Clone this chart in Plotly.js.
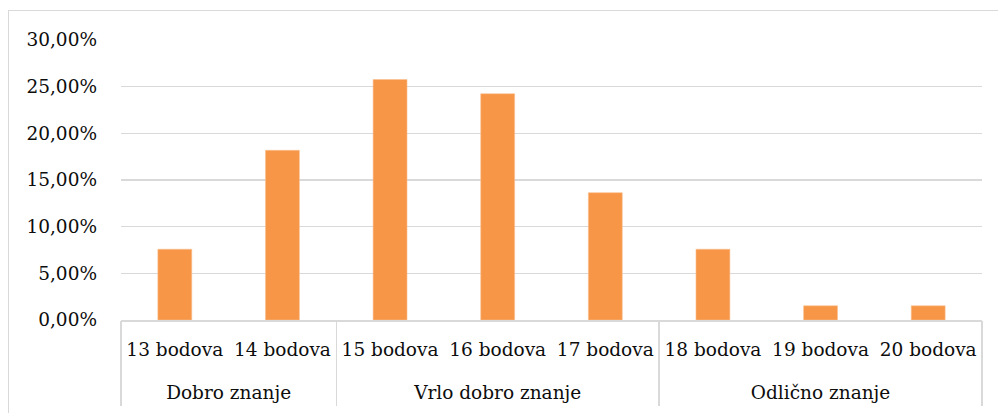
<!DOCTYPE html>
<html>
<head>
<meta charset="utf-8">
<script src="https://cdn.plot.ly/plotly-3.0.1.min.js"></script>
<style>
  html, body { margin: 0; padding: 0; background: #fff; overflow: hidden; }
  #wrap { position: relative; width: 998px; height: 413px; overflow: hidden; }
  #chart { position: absolute; left: 0; top: 0; width: 998px; height: 413px; }
  #frame { position: absolute; left: 8px; top: 10px; width: 1100px; height: 600px;
           border: 1.5px solid #d9d9d9; pointer-events: none; box-sizing: border-box; }
</style>
</head>
<body>
<div id="wrap">
  <div id="chart"></div>
  <div id="frame"></div>
</div>
<script>
const groups = ["Dobro znanje", "Dobro znanje",
                "Vrlo dobro znanje", "Vrlo dobro znanje", "Vrlo dobro znanje",
                "Odlično znanje", "Odlično znanje", "Odlično znanje"];
const categories = ["13 bodova", "14 bodova", "15 bodova", "16 bodova",
                    "17 bodova", "18 bodova", "19 bodova", "20 bodova"];
const values = [0.0758, 0.1818, 0.2576, 0.2424, 0.1364, 0.0758, 0.0152, 0.0152];
const yTicks = [0, 0.05, 0.10, 0.15, 0.20, 0.25, 0.30];

// group label positions and divider positions derived from the groups array
const groupNames = [], groupCenters = [], boundaries = [-0.5];
let start = 0;
for (let i = 1; i <= groups.length; i++) {
  if (i === groups.length || groups[i] !== groups[start]) {
    groupNames.push(groups[start]);
    groupCenters.push((start + i - 1) / 2);
    boundaries.push(i - 0.5);
    start = i;
  }
}

const font = { family: "DejaVu Serif", size: 18.5, color: "#0d0d0d" };
const xRange = [-0.5, categories.length - 0.5];

const trace = {
  type: "bar",
  x: categories,
  y: values,
  marker: { color: "#F79646", line: { color: "#FAC090", width: 0.6 } },
  hoverinfo: "skip"
};
const anchor2 = { type: "scatter", x: [], y: [], xaxis: "x2", yaxis: "y", hoverinfo: "skip", showlegend: false };
const anchor3 = { type: "scatter", x: [], y: [], xaxis: "x3", yaxis: "y", hoverinfo: "skip", showlegend: false };

const layout = {
  width: 998, height: 413,
  margin: { l: 121, r: 16, t: 40, b: 93 },
  paper_bgcolor: "rgba(0,0,0,0)",
  plot_bgcolor: "#fff",
  separators: ",.",
  font: font,
  showlegend: false,
  bargap: 0.685,
  xaxis: {
    type: "category", range: xRange,
    showline: true, linecolor: "#d9d9d9", linewidth: 1.5,
    showgrid: false, ticks: "",
    ticklabelstandoff: 12,
    tickfont: font,
    fixedrange: true
  },
  xaxis2: {
    overlaying: "x", anchor: "y", side: "bottom",
    type: "linear", range: xRange,
    tickmode: "array", tickvals: groupCenters, ticktext: groupNames,
    showline: false, showgrid: false, zeroline: false, ticks: "",
    ticklabelstandoff: 59,
    tickfont: font,
    fixedrange: true
  },
  xaxis3: {
    overlaying: "x", anchor: "y", side: "bottom",
    type: "linear", range: xRange,
    tickmode: "array", tickvals: boundaries,
    showticklabels: false,
    showline: false, showgrid: false, zeroline: false,
    ticks: "outside", ticklen: 85, tickwidth: 1.5, tickcolor: "#d9d9d9",
    fixedrange: true
  },
  yaxis: {
    range: [0, 0.30],
    tickvals: yTicks,
    tickformat: ".2%",
    showgrid: true, gridcolor: "#d9d9d9", gridwidth: 1.3,
    zeroline: false, showline: false, ticks: "",
    ticklabelstandoff: 23,
    tickfont: font,
    fixedrange: true
  }
};

Plotly.newPlot("chart", [trace, anchor2, anchor3], layout, { displayModeBar: false, staticPlot: true });
</script>
</body>
</html>
